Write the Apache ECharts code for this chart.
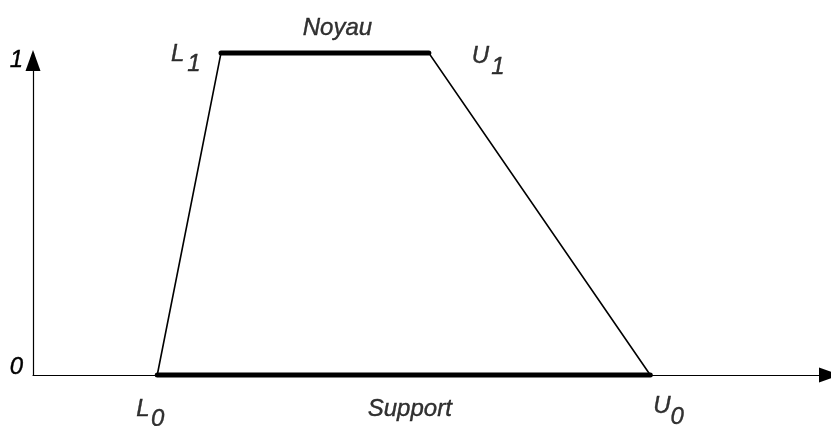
<!DOCTYPE html>
<html><head><meta charset="utf-8">
<script src="https://cdn.jsdelivr.net/npm/echarts@6/dist/echarts.min.js"></script>
<style>html,body{margin:0;padding:0;background:#fff}#c{width:831px;height:426px}</style>
</head><body><div id="c"></div>
<script>
// ---- data ----
const pointNames = ['L0', 'L1', 'U1', 'U0'];
const pointLetters = ['L', 'L', 'U', 'U'];
const pointSubs = ['0', '1', '1', '0'];
const pointX = [15.6, 23.6, 49.7, 77.5];
const pointY = [0, 1, 1, 0];
const yTickValues = [0, 1];
const yTickLabels = ['0', '1'];
const coreLabel = 'Noyau';
const supportLabel = 'Support';

// ---- styles ----
const FONT = "'Liberation Sans', Arial, sans-serif";
const letterOffsets = { L0: [-21, 22], L1: [-50, -11], U1: [43, -9], U0: [3, 19] };
const subOffsets = { L0: [-6.2, 32], L1: [-33.7, -1], U1: [62.3, 2], U0: [20.3, 30] };
const textBase = {
  fontSize: 24, lineHeight: 24, fontStyle: 'italic', fontFamily: FONT, color: '#000',
  textBorderColor: '#000', textBorderWidth: 0.4
};

const pts = pointX.map((x, i) => [x, pointY[i]]);
const P = n => pts[pointNames.indexOf(n)];

const letterData = pointNames.map((n, i) => ({
  value: pts[i], name: pointLetters[i], label: { position: letterOffsets[n] }
}));
const subData = pointNames.map((n, i) => ({
  value: pts[i], name: pointSubs[i], label: { position: subOffsets[n] }
}));

const coreMid = [(P('L1')[0] + P('U1')[0]) / 2, P('L1')[1]];
const suppMid = [(P('L0')[0] + P('U0')[0]) / 2, P('L0')[1]];

const chart = echarts.init(document.getElementById('c'), null, { renderer: 'canvas' });
chart.setOption({
  animation: false,
  backgroundColor: '#fff',
  grid: { left: 33, right: 1.5, top: 53, bottom: 51, outerBoundsMode: 'none', containLabel: false },
  xAxis: {
    type: 'value', min: 0, max: 100,
    axisLine: { show: true, lineStyle: { color: '#000', width: 1.2 }, symbol: ['none', 'triangle'], symbolSize: [15, 21] },
    axisTick: { show: false }, axisLabel: { show: false }, splitLine: { show: false }
  },
  yAxis: {
    type: 'value', min: 0, max: 1, interval: 1,
    axisLine: { show: true, lineStyle: { color: '#000', width: 1.2 }, symbol: ['none', 'triangle'], symbolSize: [15, 21], symbolOffset: [0, -7.5] },
    axisTick: { show: false }, splitLine: { show: false },
    axisLabel: {
      margin: 10,
      formatter: v => {
        const i = yTickValues.indexOf(v);
        return v === 0 ? '{a|' + yTickLabels[i] + '}' : '{b|' + yTickLabels[i] + '}';
      },
      rich: {
        a: Object.assign({}, textBase, { padding: [0, 0, 15, 0] }),
        b: Object.assign({}, textBase, { padding: [15, 0, 0, 0] })
      }
    }
  },
  series: [
    {
      type: 'line', data: pts, symbol: 'none', clip: false,
      lineStyle: { color: '#000', width: 1.6, join: 'miter' }, z: 3
    },
    {
      type: 'line', data: [P('L1'), P('U1')], symbol: 'none', clip: false,
      lineStyle: { color: '#000', width: 5, cap: 'round' }, z: 4
    },
    {
      type: 'line', data: [P('L0'), P('U0')], symbol: 'none', clip: false,
      lineStyle: { color: '#000', width: 5, cap: 'round' }, z: 4
    },
    {
      type: 'scatter', symbolSize: 0, clip: false, data: letterData, z: 5,
      label: Object.assign({ show: true, align: 'left', verticalAlign: 'top', formatter: p => p.name }, textBase)
    },
    {
      type: 'scatter', symbolSize: 0, clip: false, data: subData, z: 5,
      label: Object.assign({ show: true, align: 'left', verticalAlign: 'top', formatter: p => p.name }, textBase)
    },
    {
      type: 'scatter', symbolSize: 0, clip: false, z: 5,
      data: [
        { value: coreMid, name: coreLabel, label: { position: [12.5, -25] } },
        { value: suppMid, name: supportLabel, label: { position: [6, 34] } }
      ],
      label: Object.assign({ show: true, align: 'center', verticalAlign: 'middle', formatter: p => p.name }, textBase)
    }
  ]
});
</script>
</body></html>
